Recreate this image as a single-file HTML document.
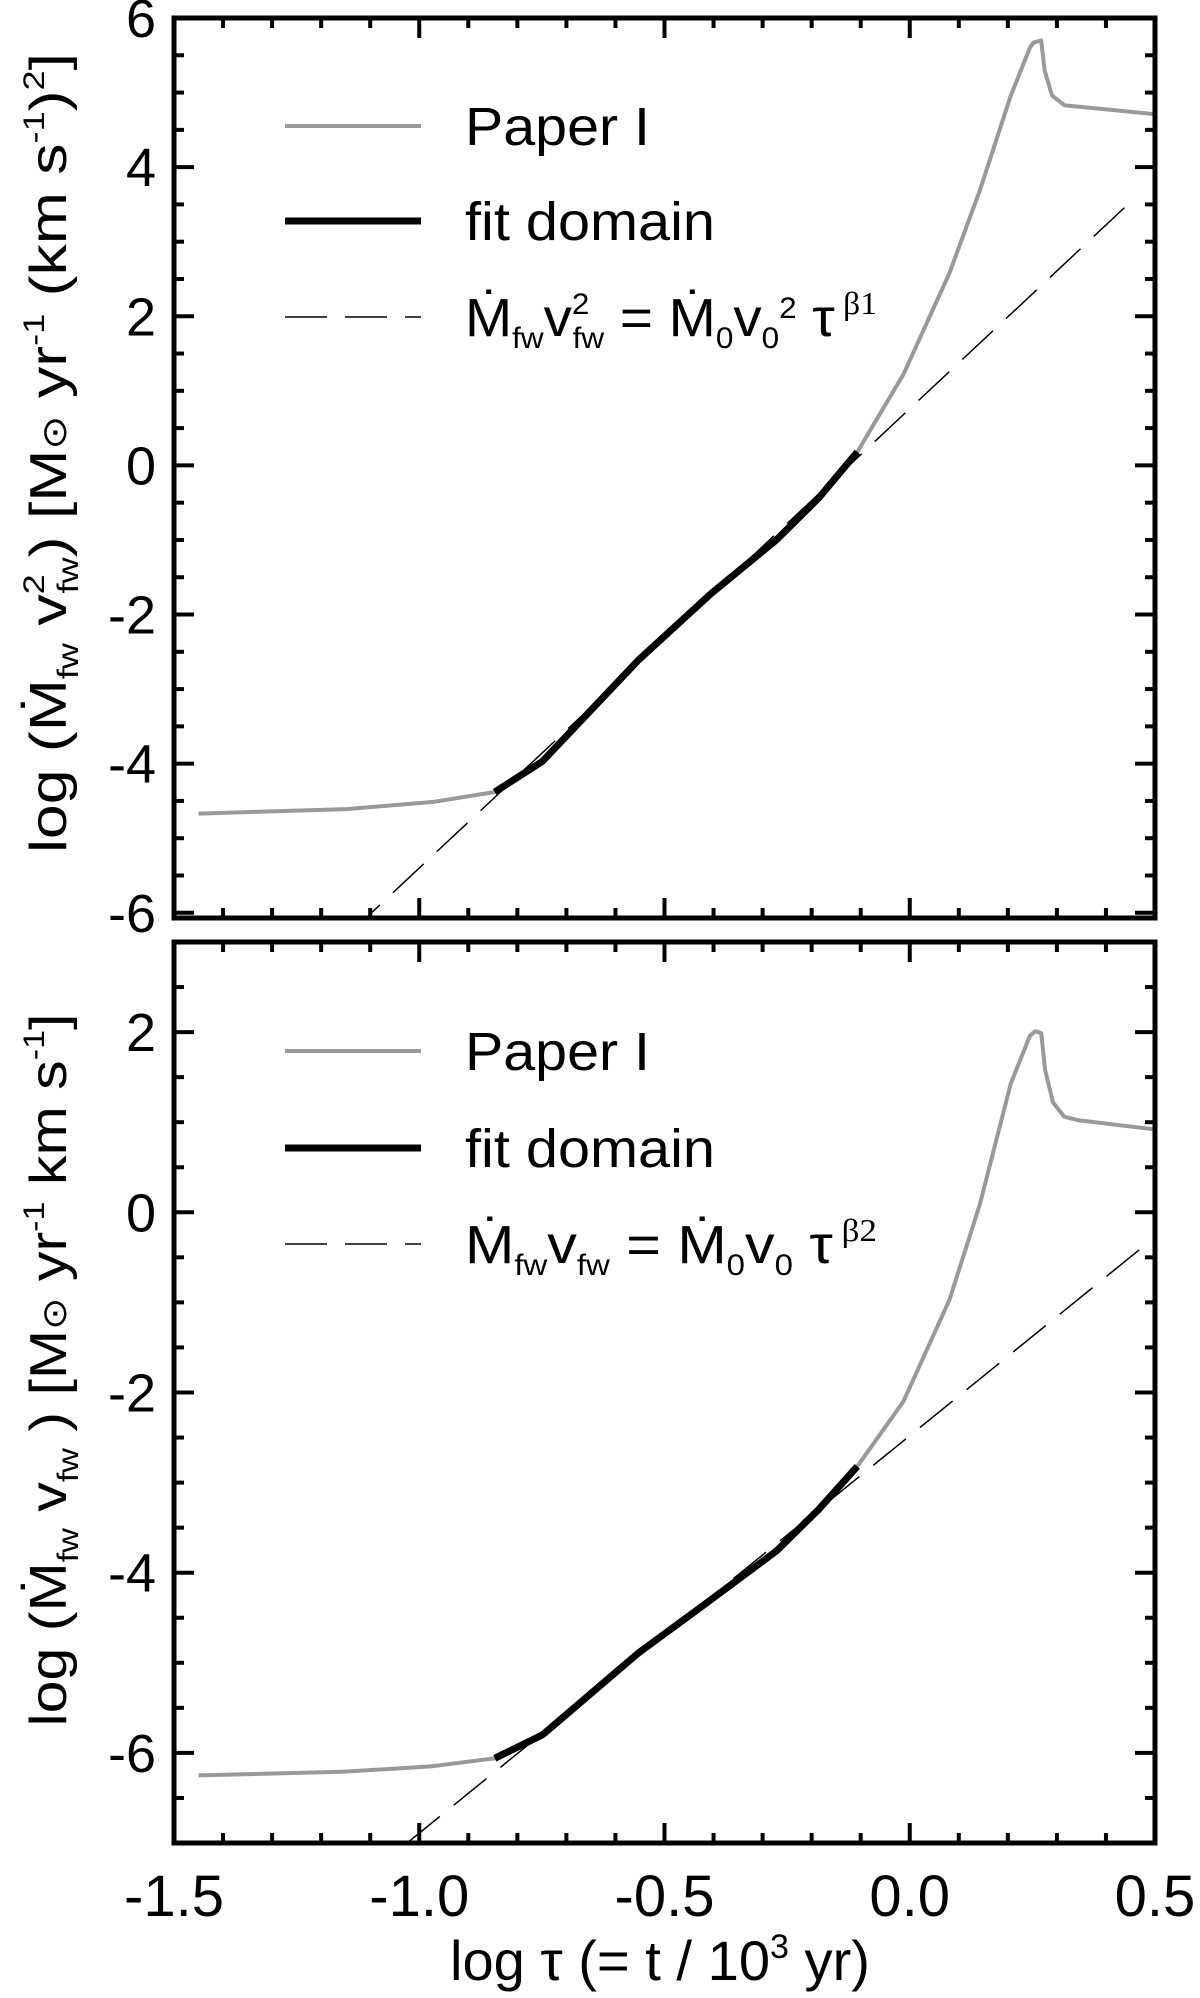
<!DOCTYPE html>
<html><head><meta charset="utf-8"><style>
html,body{margin:0;padding:0;background:#fff;}
svg{display:block;font-family:"Liberation Sans",Arial,sans-serif;}
</style></head><body>
<svg id="chart" width="1200" height="1998" viewBox="0 0 1200 1998" xmlns="http://www.w3.org/2000/svg">
<g id="g"></g>
<text x="660" y="1980" font-size="56" text-anchor="middle" textLength="420" lengthAdjust="spacingAndGlyphs">log τ (= t / 10<tspan font-size="34" dy="-22">3</tspan><tspan dy="22"> yr)</tspan></text>
<text transform="translate(66,453) rotate(-90)" font-size="52" text-anchor="middle" textLength="800" lengthAdjust="spacingAndGlyphs">log (Ṁ<tspan font-size="30" dy="12">fw</tspan><tspan dy="-12"> v</tspan><tspan font-size="30" dy="-22">2</tspan><tspan font-size="30" dx="-16" dy="34">fw</tspan><tspan dy="-12">)  [M</tspan><tspan font-size="34">⊙</tspan><tspan> yr</tspan><tspan font-size="30" dy="-22">-1</tspan><tspan dy="22"> (km s</tspan><tspan font-size="30" dy="-22">-1</tspan><tspan dy="22">)</tspan><tspan font-size="30" dy="-22">2</tspan><tspan dy="22">]</tspan></text>
<text transform="translate(66,1370) rotate(-90)" font-size="52" text-anchor="middle" textLength="713" lengthAdjust="spacingAndGlyphs">log (Ṁ<tspan font-size="30" dy="12">fw</tspan><tspan dy="-12"> v</tspan><tspan font-size="30" dy="12">fw</tspan><tspan dy="-12"> )  [M</tspan><tspan font-size="34">⊙</tspan><tspan> yr</tspan><tspan font-size="30" dy="-22">-1</tspan><tspan dy="22"> km s</tspan><tspan font-size="30" dy="-22">-1</tspan><tspan dy="22">]</tspan></text>
</svg>
<script>
// x axis
const xTicksMajor = [-1.5, -1.0, -0.5, 0.0, 0.5];
const xTickLabels = ["-1.5", "-1.0", "-0.5", "0.0", "0.5"];
// top panel data
const topPaperX = [-1.45,-1.148,-0.968,-0.846,-0.749,-0.553,-0.405,-0.272,-0.186,-0.107,-0.013,0.081,0.143,0.206,0.245,0.252,0.268,0.275,0.29,0.315,0.346,0.5];
const topPaperY = [-4.67,-4.61,-4.51,-4.38,-3.97,-2.61,-1.72,-1.0,-0.44,0.18,1.22,2.58,3.69,4.96,5.6,5.67,5.7,5.3,4.96,4.83,4.81,4.71];
const topFitX = [-0.846,-0.749,-0.553,-0.405,-0.272,-0.186,-0.107];
const topFitY = [-4.38,-3.97,-2.61,-1.72,-1.0,-0.44,0.18];
const topLawA = [0.76];
const topLawB = [6.16];
const topYTicks = [-6, -4, -2, 0, 2, 4, 6];
// bottom panel data
const botPaperX = [-1.45,-1.156,-0.976,-0.846,-0.749,-0.553,-0.42,-0.272,-0.186,-0.107,-0.013,0.081,0.143,0.206,0.245,0.256,0.268,0.276,0.292,0.315,0.346,0.5];
const botPaperY = [-6.25,-6.21,-6.15,-6.06,-5.80,-4.89,-4.36,-3.76,-3.30,-2.82,-2.10,-0.97,0.09,1.43,1.96,2.01,1.99,1.58,1.22,1.06,1.02,0.92];
const botFitX = [-0.846,-0.749,-0.553,-0.42,-0.272,-0.186,-0.107];
const botFitY = [-6.06,-5.80,-4.89,-4.36,-3.76,-3.30,-2.82];
const botLawA = [-2.48];
const botLawB = [4.41];
const botYTicks = [-6, -4, -2, 0, 2];

const NS = "http://www.w3.org/2000/svg";
const G = document.getElementById("g");
const X0 = 174, X1 = 1155, XMIN = -1.5, XMAX = 0.5;
function sx(v){ return X0 + (v - XMIN) / (XMAX - XMIN) * (X1 - X0); }
function mk(tag, attrs, parent){
  const e = document.createElementNS(NS, tag);
  for (const k in attrs) e.setAttribute(k, attrs[k]);
  (parent || G).appendChild(e);
  return e;
}
function panel(p){
  const sy = v => p.y0 + (p.ymax - v) / (p.ymax - p.ymin) * (p.y1 - p.y0);
  const grp = mk("g", {});
  
  
  const clipId = "clip" + p.name;
  const cp = mk("clipPath", {id: clipId}, grp);
  mk("rect", {x: X0, y: p.y0, width: X1 - X0, height: p.y1 - p.y0}, cp);
  const plot = mk("g", {"clip-path": "url(#" + clipId + ")"}, grp);
  // power law dashed
  const lx0 = -1.5, lx1 = p.lawEnd;
  const law = mk("line", {x1: sx(lx0), y1: sy(p.a[0] + p.b[0]*lx0), x2: sx(lx1), y2: sy(p.a[0] + p.b[0]*lx1), stroke: "#000", "stroke-width": 1.5, "stroke-dasharray": "42,18"}, plot);
  
  
  const pts = (xs, ys) => xs.map((x, i) => sx(x).toFixed(1) + "," + sy(ys[i]).toFixed(1)).join(" ");
  const gray = mk("polyline", {points: pts(p.px, p.py), fill: "none", stroke: "#999", "stroke-width": 4, "stroke-linejoin": "round"}, plot);
  
  
  const blk = mk("polyline", {points: pts(p.fx, p.fy), fill: "none", stroke: "#000", "stroke-width": 7, "stroke-linejoin": "round"}, plot);
  
  
  // ticks
  for (let i = 0; i <= 20; i++) {
    const v = XMIN + i * 0.1, major = (i % 5 === 0), L = major ? 20 : 10;
    mk("line", {x1: sx(v), x2: sx(v), y1: p.y1, y2: p.y1 - L, stroke: "#000", "stroke-width": 4}, grp);
    mk("line", {x1: sx(v), x2: sx(v), y1: p.y0, y2: p.y0 + L, stroke: "#000", "stroke-width": 4}, grp);
  }
  for (let v = Math.ceil(p.ymin * 2) / 2; v <= p.ymax + 1e-6; v += 0.5) {
    const major = Math.abs(v / 2 - Math.round(v / 2)) < 1e-6, L = major ? 20 : 10;
    mk("line", {x1: X0, x2: X0 + L, y1: sy(v), y2: sy(v), stroke: "#000", "stroke-width": 4}, grp);
    mk("line", {x1: X1, x2: X1 - L, y1: sy(v), y2: sy(v), stroke: "#000", "stroke-width": 4}, grp);
  }
  p.yt.forEach(v => {
    const t = mk("text", {x: 156, y: sy(v) + 19, "font-size": 54, "text-anchor": "end"}, grp);
    t.textContent = String(v);
    
    
  });
  const fr = mk("rect", {x: X0, y: p.y0, width: X1 - X0, height: p.y1 - p.y0, fill: "none", stroke: "#000", "stroke-width": 5}, grp);
  
  
  // legend
  const lg = mk("g", {}, grp);
  
  
  const l1 = mk("line", {x1: 285, x2: 421, y1: p.ly[0], y2: p.ly[0], stroke: "#999", "stroke-width": 4}, lg);
  
  
  const l2 = mk("line", {x1: 285, x2: 421, y1: p.ly[1], y2: p.ly[1], stroke: "#000", "stroke-width": 7}, lg);
  
  
  const l3 = mk("line", {x1: 285, x2: 421, y1: p.ly[2], y2: p.ly[2], stroke: "#000", "stroke-width": 1.5, "stroke-dasharray": "42,18"}, lg);
  
  
  const t1 = mk("text", {x: 465, y: p.ly[0] + 19, "font-size": 54, textLength: 185, lengthAdjust: "spacingAndGlyphs"}, lg);
  t1.textContent = "Paper I";
  
  
  const t2 = mk("text", {x: 465, y: p.ly[1] + 19, "font-size": 54, textLength: 250, lengthAdjust: "spacingAndGlyphs"}, lg);
  t2.textContent = "fit domain";
  
  
  const t3 = mk("text", {x: 465, y: p.ly[2] + 19, "font-size": 54, textLength: p.eqLen, lengthAdjust: "spacingAndGlyphs"}, lg);
  t3.innerHTML = p.eq;
  
  
  return sy;
}
const syT = panel({name: "top-panel", y0: 18, y1: 918, ymin: -6.07, ymax: 6, px: topPaperX, py: topPaperY, fx: topFitX, fy: topFitY, a: topLawA, b: topLawB, lawEnd: 0.46, yt: topYTicks, ly: [126, 221, 317], eqLen: 412,
  eq: 'Ṁ<tspan font-size="30" dy="12">fw</tspan><tspan dy="-12">v</tspan><tspan font-size="30" dy="-22">2</tspan><tspan font-size="30" dx="-16" dy="34">fw</tspan><tspan dy="-12"> = Ṁ</tspan><tspan font-size="30" dy="12">0</tspan><tspan dy="-12">v</tspan><tspan font-size="30" dy="12">0</tspan><tspan font-size="30" dy="-30">2</tspan><tspan dy="18"> τ</tspan><tspan font-size="32" dy="-22" font-family="Liberation Serif, serif"> β1</tspan>'});
const syB = panel({name: "bottom-panel", y0: 942, y1: 1843, ymin: -7, ymax: 3, px: botPaperX, py: botPaperY, fx: botFitX, fy: botFitY, a: botLawA, b: botLawB, lawEnd: 0.49, yt: botYTicks, ly: [1051, 1148, 1244], eqLen: 412,
  eq: 'Ṁ<tspan font-size="30" dy="12">fw</tspan><tspan dy="-12">v</tspan><tspan font-size="30" dy="12">fw</tspan><tspan dy="-12"> = Ṁ</tspan><tspan font-size="30" dy="12">0</tspan><tspan dy="-12">v</tspan><tspan font-size="30" dy="12">0</tspan><tspan dy="-12"> τ</tspan><tspan font-size="32" dy="-22" font-family="Liberation Serif, serif"> β2</tspan>'});
xTicksMajor.forEach((v, i) => {
  const t = mk("text", {x: sx(v), y: 1916, "font-size": 58, "text-anchor": "middle"});
  t.textContent = xTickLabels[i];
  
  
});
</script>
</body></html>
